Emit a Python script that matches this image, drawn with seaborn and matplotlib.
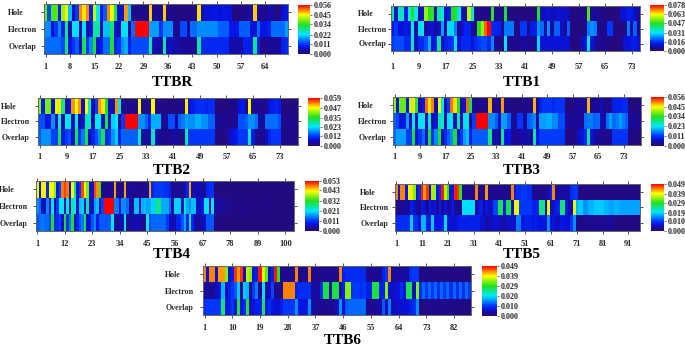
import numpy as np
import seaborn as sns
import matplotlib.pyplot as plt
from matplotlib.colors import LinearSegmentedColormap

sns.set_theme(style='white')
plt.rcParams['font.family'] = ['Liberation Serif', 'DejaVu Serif']
plt.rcParams['font.weight'] = 'bold'

# Datos, en unidades de 0.001
filas = ['Hole', 'Electron', 'Overlap']

ttbr_hole = [37,13,36,36,9,40,44,20,6,12,
    50,46,50,9,42,24,8,14,50,44,
    30,6,7,49,20,3,3,3,3,3,
    47,3,3,4,47,2,3,3,2,2,
    2,2,3,3,46,6,7,7,8,8,
    7,8,8,7,2,2,3,3,4,5,
    47,4,4,3,5,5,2,2,7,8]
ttbr_electron = [17,17,7,11,17,9,28,5,22,22,
    5,22,5,7,27,27,5,20,20,30,
    7,5,22,22,4,15,56,56,56,56,
    18,18,18,11,17,17,17,3,3,13,
    13,4,15,15,17,17,17,17,17,17,
    14,14,14,8,8,8,14,14,14,7,
    7,15,8,8,9,15,15,15,15,18]
ttbr_overlap = [15,15,15,15,15,13,30,8,11,14,
    6,31,11,17,33,7,9,15,15,33,
    9,11,17,19,9,13,13,13,13,13,
    27,6,5,5,27,6,6,5,5,4,
    4,4,4,4,27,10,10,10,10,10,
    10,10,10,5,5,5,5,9,9,9,
    28,9,3,3,4,4,4,4,9,10]

ttb1_hole = [39,10,36,36,12,33,47,32,6,10,
    55,47,48,7,38,33,8,12,47,47,
    33,8,7,58,35,4,4,4,4,4,
    48,4,4,4,45,3,3,4,3,2,
    3,3,2,3,46,8,9,10,8,8,
    10,9,9,8,2,2,4,4,4,50,
    6,5,5,5,2,2,2,2,3,10,
    10,12,12,8,6]
ttb1_electron = [12,16,10,10,12,10,31,6,30,33,
    6,9,10,6,8,25,6,30,30,22,
    5,10,13,13,6,5,47,55,72,78,
    14,13,13,6,22,22,22,3,3,16,
    16,4,12,12,24,21,6,24,6,20,
    20,8,6,20,3,3,3,3,5,22,
    24,22,4,4,4,16,16,3,3,3,
    3,22,6,20,5]
ttb1_overlap = [16,18,18,18,14,14,36,8,14,14,
    18,27,10,12,38,8,12,14,16,31,
    10,14,14,14,10,14,16,18,18,14,
    23,5,5,4,31,4,5,4,4,6,
    6,5,5,5,30,10,10,10,10,10,
    10,10,10,10,2,2,3,8,10,32,
    10,6,5,5,4,4,2,2,3,3,
    10,10,12,12,10]

ttb2_hole = [41,9,40,40,7,45,48,30,5,8,
    52,47,52,6,47,26,5,12,52,48,
    35,6,6,52,26,3,3,3,3,3,
    47,3,3,3,47,3,3,2,3,2,
    2,3,3,3,48,7,9,11,11,11,
    10,11,11,2,2,2,2,3,3,3,
    8,9,3,47,4,4,4,3,3,8,
    9,10,9,2,2,2,2,3]
ttb2_electron = [14,14,8,8,18,6,24,5,24,25,
    6,25,5,7,28,26,5,24,24,6,
    33,6,22,24,4,12,59,59,59,59,
    18,18,15,10,20,20,20,4,4,14,
    14,5,15,17,19,18,18,20,20,18,
    18,15,15,4,4,4,3,3,4,4,
    14,14,15,18,18,16,5,4,16,16,
    16,16,14,3,3,3,3,3]
ttb2_overlap = [15,18,18,18,13,13,33,9,12,14,
    7,33,12,17,33,6,10,14,18,33,
    10,12,18,22,10,15,15,15,15,15,
    27,5,5,5,27,6,4,4,3,3,
    5,5,3,3,28,12,12,12,12,12,
    12,12,12,2,2,2,3,6,8,9,
    12,12,12,27,9,3,4,4,6,10,
    12,12,12,3,3,3,3,3]

ttb3_hole = [39,7,37,37,8,42,46,31,5,8,
    51,46,50,5,44,24,5,12,51,46,
    33,5,7,51,31,3,3,3,3,3,
    48,3,3,4,49,3,3,2,2,2,
    2,3,3,4,48,4,9,11,11,11,
    10,11,11,11,2,2,2,4,4,4,
    5,48,4,4,4,6,3,3,3,9,
    9,9,10,10,2,2,2,3]
ttb3_electron = [14,13,7,8,18,6,23,5,22,24,
    6,24,5,7,27,25,5,22,23,5,
    26,5,22,24,4,12,56,56,56,56,
    17,17,14,6,18,18,14,4,4,11,
    11,4,14,15,17,4,18,18,19,19,
    17,17,13,13,4,4,4,4,4,4,
    15,16,16,14,15,5,5,15,18,15,
    16,18,16,14,4,4,4,4]
ttb3_overlap = [15,18,18,18,12,12,33,8,11,15,
    7,33,11,17,33,6,10,14,17,33,
    8,11,18,20,9,14,14,14,14,14,
    28,5,5,4,28,8,8,4,4,4,
    5,5,5,4,27,8,12,12,12,12,
    12,12,12,12,2,2,3,3,6,8,
    10,28,8,5,4,4,3,3,3,11,
    11,11,11,11,2,2,2,2]

ttb4_hole = [42,8,43,43,9,42,42,37,8,12,
    48,50,48,8,42,27,7,11,50,42,
    36,7,7,50,47,33,3,3,3,3,
    3,46,3,3,3,46,4,4,3,3,
    3,3,3,4,4,46,9,11,11,11,
    11,10,10,9,3,3,3,4,4,5,
    9,46,5,5,5,5,4,4,9,10,
    10,2,2,2,2,2,2,2,2,2,
    2,2,2,2,2,2,2,2,2,2,
    2,2,2,2,2,2,2,2,2,2,
    2,2,2]
ttb4_electron = [16,14,6,5,16,6,21,5,11,21,
    21,6,24,5,24,23,6,19,20,6,
    26,6,6,17,19,5,12,53,53,53,
    53,15,15,7,16,16,14,4,4,19,
    19,5,18,19,17,18,20,20,27,26,
    18,18,18,14,4,20,20,20,6,24,
    18,16,19,19,6,6,8,21,21,5,
    21,4,4,4,4,4,3,3,3,2,
    2,3,3,2,2,2,3,2,2,3,
    2,2,3,2,2,2,2,2,2,2,
    2,2,2]
ttb4_overlap = [13,14,15,14,14,12,32,9,10,12,
    6,32,10,15,32,6,9,13,15,30,
    6,8,13,16,8,13,13,13,13,13,
    22,4,4,5,5,22,4,4,4,5,
    5,5,3,3,22,12,14,14,14,14,
    14,14,11,5,5,5,9,9,13,18,
    9,23,9,5,4,4,5,6,13,13,
    13,2,2,2,2,2,2,2,2,2,
    2,2,2,2,2,2,2,2,2,2,
    2,2,2,2,2,2,2,2,2,2,
    2,2,2]

ttb5_hole = [44,7,44,44,7,38,40,34,6,9,
    48,43,47,6,35,35,7,9,48,36,
    30,6,7,48,47,30,3,3,3,3,
    3,44,3,3,3,43,3,3,3,3,
    3,3,3,3,3,44,7,9,9,10,
    10,9,9,3,3,3,3,3,3,4,
    8,44,4,4,4,4,4,4,9,10,
    10,2,2,2,2,2,2,2,2,2,
    2,2,2,2,2,2,2,2,2,2,
    2,2,2,2,2]
ttb5_electron = [3,3,3,4,4,3,8,6,3,3,
    8,6,3,8,5,7,3,8,3,7,
    3,5,8,3,3,3,19,19,19,19,
    19,3,7,8,3,7,5,5,11,11,
    27,27,7,27,27,5,38,38,10,10,
    10,10,10,8,8,8,25,25,5,38,
    5,5,8,8,26,26,7,4,5,38,
    17,18,18,15,15,17,17,18,18,18,
    18,17,17,16,16,17,17,16,16,16,
    16,16,16,16,16]
ttb5_overlap = [9,9,9,9,9,9,18,9,9,6,
    17,17,8,7,18,7,7,7,8,19,
    7,6,6,6,7,8,8,8,8,8,
    8,8,8,6,6,4,5,5,6,6,
    5,5,4,5,6,6,5,14,14,7,
    8,8,8,7,8,7,7,7,6,15,
    6,7,5,5,7,7,6,6,10,15,
    3,3,2,2,4,3,3,4,3,3,
    3,3,4,4,3,2,2,2,2,2,
    2,2,2,2,2]

ttb6_hole = [44,6,44,44,6,43,43,34,6,8,
    47,43,47,5,36,34,7,8,48,38,
    32,5,8,48,30,3,3,3,3,3,
    44,3,3,3,44,3,3,3,3,3,
    3,3,3,3,44,8,9,9,9,9,
    9,9,9,3,3,3,3,3,8,10,
    44,4,4,4,4,4,4,9,10,10,
    2,2,2,2,2,2,2,2,2,2,
    2,2,2,2,2,2,2]
ttb6_electron = [3,4,3,4,5,6,17,5,8,10,
    12,18,3,18,17,3,10,14,3,19,
    3,5,11,3,3,3,44,44,44,44,
    8,9,9,9,9,4,4,4,9,28,
    28,5,28,28,4,8,34,34,10,10,
    10,9,10,8,8,28,28,8,8,34,
    6,5,6,7,9,6,27,27,5,34,
    9,13,10,13,10,13,9,13,10,13,
    9,13,9,13,9,13,10]
ttb6_overlap = [9,10,10,10,10,10,26,7,8,10,
    6,28,7,9,28,5,6,8,8,27,
    7,9,7,6,6,8,10,10,10,10,
    15,7,7,7,15,4,4,3,3,3,
    3,3,3,5,15,6,12,13,13,13,
    13,13,13,3,3,3,4,4,12,5,
    14,5,5,6,6,6,6,8,9,15,
    2,1,2,3,2,3,2,3,2,3,
    2,3,2,2,2,2,2]

etiquetas_r = ['0.000', '0.011', '0.022', '0.034', '0.045', '0.056']
etiquetas_1 = ['0.000', '0.016', '0.031', '0.047', '0.063', '0.078']
etiquetas_2 = ['0.000', '0.012', '0.023', '0.035', '0.047', '0.059']
etiquetas_3 = ['0.000', '0.011', '0.023', '0.034', '0.045', '0.056']
etiquetas_4 = ['0.000', '0.011', '0.021', '0.032', '0.043', '0.053']
etiquetas_5 = ['0.000', '0.010', '0.019', '0.029', '0.039', '0.049']
etiquetas_6 = ['0.000', '0.010', '0.020', '0.029', '0.039', '0.049']

# Paleta: violeta oscuro, azul, cian, verde, amarillo, rojo
colores = [(0, '#2c0a70'), (0.07, '#1a0a96'), (0.14, '#0414e6'), (0.22, '#0040ff'),
           (0.4, '#00e8ff'), (0.6, '#20e020'), (0.8, '#ffff00'), (1, '#ff0000')]
mapa = LinearSegmentedColormap.from_list('rainbow_ttb', colores)

W, H = 685, 346
fig = plt.figure(figsize=(W / 100, H / 100), dpi=100)

# nombre, datos, etiquetas barra, paso eje x,
# caja (x0, x1, y0, y1), barra (x0, x1, y0, y1), x etiqueta fila, y etiqueta x, centro titulo
paneles = [
    ('TTBR', (ttbr_hole, ttbr_electron, ttbr_overlap), etiquetas_r, 7,
     (44, 288, 4, 54), (298, 310, 5, 54), 9, 66, (172, 83)),
    ('TTB1', (ttb1_hole, ttb1_electron, ttb1_overlap), etiquetas_1, 8,
     (391, 640, 6, 51), (650, 664, 5, 51), 359, 66, (522, 83)),
    ('TTB2', (ttb2_hole, ttb2_electron, ttb2_overlap), etiquetas_2, 8,
     (38, 298, 98, 145), (308, 320, 98, 146), 2, 156, (172, 170)),
    ('TTB3', (ttb3_hole, ttb3_electron, ttb3_overlap), etiquetas_3, 8,
     (393, 641, 97, 145), (651, 664, 97, 146), 359, 156, (522, 170)),
    ('TTB4', (ttb4_hole, ttb4_electron, ttb4_overlap), etiquetas_4, 11,
     (36, 294, 181, 231), (305, 319, 181, 231), 0, 243, (172, 255)),
    ('TTB5', (ttb5_hole, ttb5_electron, ttb5_overlap), etiquetas_5, 10,
     (395, 640, 184, 231), (651, 664, 184, 231), 361, 243, (522, 255)),
    ('TTB6', (ttb6_hole, ttb6_electron, ttb6_overlap), etiquetas_6, 9,
     (203, 471, 266, 315), (482, 497, 266, 316), 166, 327, (343, 341)),
]


def caja_ejes(c):
    return [c[0] / W, 1 - c[3] / H, (c[1] - c[0]) / W, (c[3] - c[2]) / H]


for nombre, series, etiquetas, paso, caja, barra, x_fila, y_tick, centro in paneles:
    datos = np.array(series, dtype=float) / 1000
    marcas = [float(e) for e in etiquetas]
    ax = fig.add_axes(caja_ejes(caja))
    cax = fig.add_axes(caja_ejes(barra))
    sns.heatmap(datos, ax=ax, cbar_ax=cax, cmap=mapa, vmin=0, vmax=marcas[-1],
                cbar_kws={'ticks': marcas}, xticklabels=False, yticklabels=False)

    columnas = datos.shape[1]
    pos = np.arange(0, columnas, paso)
    ax.set_xticks(pos + 0.5)
    ax.set_xticklabels([str(p + 1) for p in pos], rotation=0)
    ax.set_yticks([0.5, 1.5, 2.5])
    ax.set_yticklabels(filas, rotation=0, ha='left')
    for s in ax.spines.values():
        s.set_visible(True)
        s.set_color('#666666')
        s.set_linewidth(0.7)
    ax.tick_params(axis='x', bottom=True, top=True, length=2, width=0.6, color='#333333',
                   labelsize=6, pad=(y_tick - caja[3] - 6) * 0.72)
    ax.tick_params(axis='y', left=True, right=True, length=2, width=0.6, color='#333333',
                   labelsize=5.8, pad=(caja[0] - x_fila - 2) * 0.72)

    cax.set_yticklabels(etiquetas)
    cax.tick_params(axis='y', right=True, length=1.5, width=0.5, color='#333333',
                    labelsize=5.8, pad=1)
    ax.collections[0].colorbar.outline.set_visible(False)

    fig.text(centro[0] / W, 1 - centro[1] / H, nombre, ha='center', va='center',
             fontsize=11, fontweight='bold', color='black')

fig.savefig('out.png', dpi=100)
